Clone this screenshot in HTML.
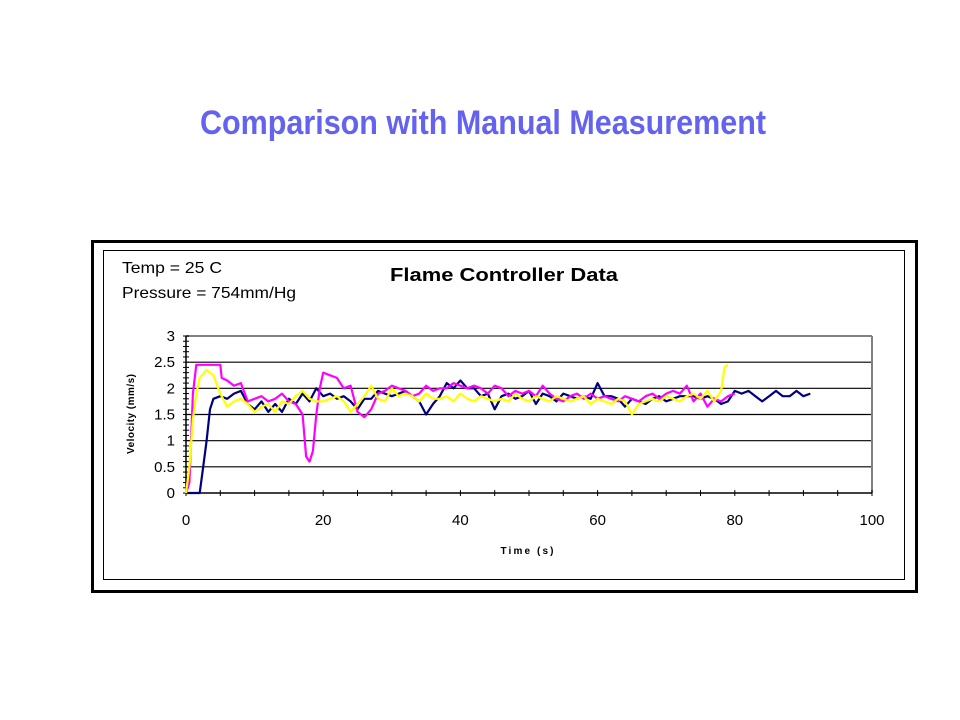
<!DOCTYPE html>
<html><head><meta charset="utf-8"><style>
body{margin:0;background:#fff;}
svg{display:block;font-family:"Liberation Sans",Arial,sans-serif;}
</style></head><body>
<svg id="c" width="960" height="720" viewBox="0 0 960 720">
<text x="483" y="134" text-anchor="middle" font-size="34" font-weight="bold" fill="#6363f0" textLength="566" lengthAdjust="spacingAndGlyphs">Comparison with Manual Measurement</text>
<rect x="92.5" y="241.5" width="824" height="350" fill="#fff" stroke="#000" stroke-width="3"/>
<rect x="103.5" y="250.5" width="801" height="329" fill="#fff" stroke="#000" stroke-width="1"/>
<text x="122" y="273" font-size="16" textLength="100" lengthAdjust="spacingAndGlyphs">Temp = 25 C</text>
<text x="122" y="298" font-size="16" textLength="174" lengthAdjust="spacingAndGlyphs">Pressure = 754mm/Hg</text>
<text x="504" y="281" text-anchor="middle" font-size="18" font-weight="bold" textLength="228" lengthAdjust="spacingAndGlyphs">Flame Controller Data</text>
<text x="527" y="554" text-anchor="middle" font-size="10" font-weight="bold" textLength="53" lengthAdjust="spacing">Time (s)</text>
<text transform="translate(134,414) rotate(-90)" text-anchor="middle" font-size="10" font-weight="bold" textLength="80" lengthAdjust="spacing">Velocity (mm/s)</text>
<g id="grid"></g><g id="axes"></g><g id="series"></g>
</svg>
<script>
const xTicks=[0,20,40,60,80,100];
const yTicks=[0,0.5,1,1.5,2,2.5,3];
const yTickLabels=["0","0.5","1","1.5","2","2.5","3"];
const navyT=[0,1,2,2.5,3,3.5,4,5,6,7,8,9,10,11,12,13,14,15,16,17,18,19,20,21,22,23,24,25,26,27,28,29,30,31,32,33,34,35,36,37,38,39,40,41,42,43,44,45,46,47,48,49,50,51,52,53,54,55,56,57,58,59,60,61,62,63,64,65,66,67,68,69,70,71,72,73,74,75,76,77,78,79,80,81,82,83,84,85,86,87,88,89,90,91];
const navyV=[0,0,0,0.5,1.0,1.6,1.8,1.85,1.8,1.9,1.95,1.7,1.6,1.75,1.55,1.7,1.55,1.8,1.7,1.9,1.75,2.0,1.85,1.9,1.8,1.85,1.75,1.6,1.8,1.8,1.95,1.9,1.85,1.9,1.95,1.85,1.75,1.5,1.7,1.85,2.1,2.0,2.15,2.0,2.0,1.85,1.9,1.6,1.85,1.9,1.8,1.85,1.95,1.7,1.9,1.85,1.75,1.9,1.85,1.8,1.85,1.8,2.1,1.85,1.85,1.8,1.65,1.8,1.75,1.7,1.8,1.85,1.75,1.8,1.85,1.85,1.85,1.8,1.85,1.8,1.7,1.75,1.95,1.9,1.95,1.85,1.75,1.85,1.95,1.85,1.85,1.95,1.85,1.9];
const magT=[0,0.5,1,1.5,2,3,4,5,5.2,6,7,8,9,10,11,12,13,14,15,16,17,17.5,18,18.5,19,19.5,20,21,22,23,24,25,26,27,28,29,30,31,32,33,34,35,36,37,38,39,40,41,42,43,44,45,46,47,48,49,50,51,52,53,54,55,56,57,58,59,60,61,62,63,64,65,66,67,68,69,70,71,72,73,74,75,76,77,78,79,80];
const magV=[0,0.2,1.9,2.45,2.45,2.45,2.45,2.45,2.2,2.15,2.05,2.1,1.75,1.8,1.85,1.75,1.8,1.9,1.75,1.7,1.5,0.7,0.6,0.8,1.5,2.0,2.3,2.25,2.2,2.0,2.05,1.55,1.45,1.6,1.9,1.95,2.05,2.0,1.95,1.85,1.9,2.05,1.95,2.0,2.0,2.1,2.05,2.0,2.05,2.0,1.9,2.05,2.0,1.85,1.95,1.9,1.95,1.85,2.05,1.9,1.8,1.75,1.85,1.9,1.8,1.9,1.8,1.85,1.8,1.75,1.85,1.8,1.75,1.85,1.9,1.8,1.9,1.95,1.9,2.05,1.75,1.9,1.65,1.8,1.75,1.85,1.9];
const yelT=[0,0.5,1,1.5,2,3,4,5,6,7,8,9,10,11,12,13,14,15,16,17,18,19,20,21,22,23,24,25,26,27,28,29,30,31,32,33,34,35,36,37,38,39,40,41,42,43,44,45,46,47,48,49,50,51,52,53,54,55,56,57,58,59,60,61,62,63,64,65,66,67,68,69,70,71,72,73,74,75,76,77,78,78.5,79];
const yelV=[0,0.5,1.4,1.9,2.2,2.35,2.25,1.9,1.65,1.75,1.8,1.7,1.55,1.65,1.7,1.55,1.75,1.7,1.85,1.95,1.8,1.75,1.75,1.8,1.85,1.75,1.55,1.7,1.85,2.05,1.8,1.75,2.0,1.85,1.9,1.85,1.75,1.9,1.8,1.8,1.85,1.75,1.9,1.8,1.75,1.85,1.8,1.75,1.8,1.75,1.9,1.8,1.75,1.85,1.8,1.75,1.85,1.8,1.75,1.8,1.85,1.7,1.8,1.75,1.7,1.8,1.75,1.5,1.7,1.75,1.8,1.75,1.85,1.8,1.75,1.85,1.9,1.8,1.95,1.75,1.95,2.4,2.45];
const X0=186,X1=872,Y0=493,Y1=336;
const xs=v=>X0+(v-0)/(100-0)*(X1-X0);
const ys=v=>Y0-(v-0)/(3-0)*(Y0-Y1);
const NS="http://www.w3.org/2000/svg";
function mk(tag,attrs,parent){const e=document.createElementNS(NS,tag);for(const k in attrs)e.setAttribute(k,attrs[k]);parent.appendChild(e);return e;}
const grid=document.getElementById('grid'),axes=document.getElementById('axes'),ser=document.getElementById('series');
yTicks.forEach((t,i)=>{
  if(t>0){const l=mk('line',{x1:X0,x2:X1,y1:ys(t),y2:ys(t),stroke:t===3?'#808080':'#000','stroke-width':t===3?2:1.2},grid);
  
  }
  const tx=mk('text',{x:X0-11,y:ys(t)+5,'text-anchor':'end','font-size':15},axes);
  tx.textContent=yTickLabels[i];
  
  
});
for(let v=0;v<=3.0001;v+=0.1){const l=mk('line',{x1:X0-3,x2:X0+3,y1:ys(v),y2:ys(v),stroke:'#000','stroke-width':1},axes);
  
  }
const pr=mk('line',{x1:X1,x2:X1,y1:Y1,y2:Y0,stroke:'#808080','stroke-width':2},axes);


const ya=mk('line',{x1:X0,x2:X0,y1:Y1,y2:Y0,stroke:'#000','stroke-width':1.5},axes);


const xa=mk('line',{x1:X0,x2:X1,y1:Y0,y2:Y0,stroke:'#000','stroke-width':1.5},axes);


for(let v=0;v<=100;v+=5){const l=mk('line',{x1:xs(v),x2:xs(v),y1:Y0-3,y2:Y0+3,stroke:'#000','stroke-width':1},axes);
  
  }
xTicks.forEach(t=>{const tx=mk('text',{x:xs(t),y:Y0+32,'text-anchor':'middle','font-size':15},axes);
  tx.textContent=String(t);
  
  });
function line(T,V,color,name){const d=T.map((t,i)=>(i?'L':'M')+xs(t).toFixed(1)+','+ys(V[i]).toFixed(1)).join('');
  const p=mk('path',{d:d,fill:'none',stroke:color,'stroke-width':2.2,'stroke-linejoin':'round'},ser);
  
  }
line(navyT,navyV,'#00007f','series-navy');
line(magT,magV,'#ff00ff','series-magenta');
line(yelT,yelV,'#ffff00','series-yellow');
</script>
</body></html>
